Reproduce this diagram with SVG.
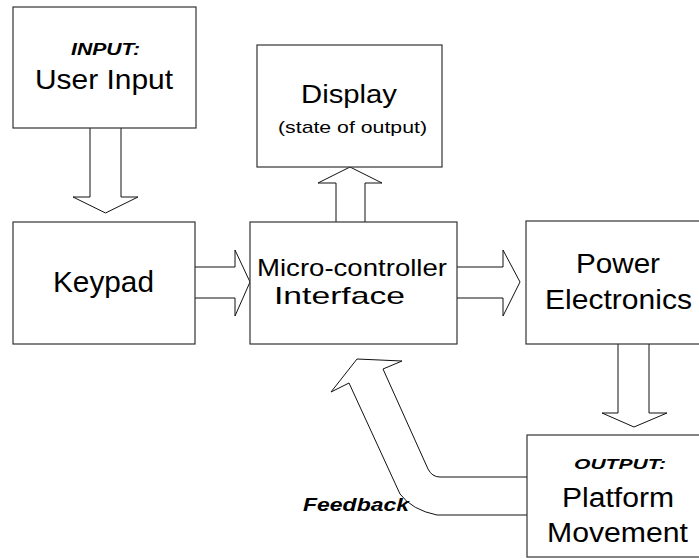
<svg xmlns="http://www.w3.org/2000/svg" width="699" height="558" viewBox="0 0 699 558">
<style>
.box{fill:#fff;stroke:#333;stroke-width:1.2}
.arr{fill:#fff;stroke:#111;stroke-width:1;stroke-linejoin:miter}
text{font-family:"Liberation Sans",Arial,sans-serif;fill:#000}
.bi{font-weight:bold;font-style:italic}
</style>
<rect width="699" height="558" fill="#fff"/>
<g id="connectors">
<path class="arr" d="M90,127 L90,197 L73,197 L105.5,213 L138,197 L121,197 L121,127"/>
<path class="arr" d="M336,223 L336,183 L318,183 L350,167 L382,183 L365,183 L365,223"/>
<path class="arr" d="M194,267 L235,267 L235,250 L250,282 L235,316 L235,298 L194,298"/>
<path class="arr" d="M456,267 L503,267 L503,250 L520,282 L503,316 L503,298 L456,298"/>
<path class="arr" d="M618,343 L618,413 L602,413 L634,427 L667,413 L649,413 L649,343"/>
<path class="arr" d="M528,515 L437,515 Q412,510 400,494 L349,383 L331,392 L357,359 L402,361 L383,369 L428,469 Q432,477 440,477 L528,477"/>
</g>
<g id="user-input">
<rect class="box" x="13" y="7" width="183" height="121"/>
<text class="bi" x="71" y="55" font-size="16" textLength="69" lengthAdjust="spacingAndGlyphs">INPUT:</text>
<text x="35" y="89" font-size="28" textLength="138" lengthAdjust="spacingAndGlyphs">User Input</text>
</g>
<g id="display">
<rect class="box" x="257" y="45" width="185" height="122"/>
<text x="301" y="103" font-size="26" textLength="96" lengthAdjust="spacingAndGlyphs">Display</text>
<text x="278" y="132.5" font-size="17" textLength="149" lengthAdjust="spacingAndGlyphs">(state of output)</text>
</g>
<g id="keypad">
<rect class="box" x="13" y="222" width="182" height="122"/>
<text x="53" y="292" font-size="30" textLength="101" lengthAdjust="spacingAndGlyphs">Keypad</text>
</g>
<g id="micro-controller">
<rect class="box" x="250" y="222" width="207" height="122"/>
<text x="257" y="276" font-size="24" textLength="190" lengthAdjust="spacingAndGlyphs">Micro-controller</text>
<text x="274" y="304" font-size="24" textLength="131" lengthAdjust="spacingAndGlyphs">Interface</text>
</g>
<g id="power-electronics">
<rect class="box" x="526" y="221" width="190" height="123"/>
<text x="576" y="273" font-size="28" textLength="84" lengthAdjust="spacingAndGlyphs">Power</text>
<text x="545" y="309" font-size="28" textLength="147" lengthAdjust="spacingAndGlyphs">Electronics</text>
</g>
<g id="platform-movement">
<rect class="box" x="527" y="435" width="190" height="122"/>
<text class="bi" x="574" y="469" font-size="15" textLength="92" lengthAdjust="spacingAndGlyphs">OUTPUT:</text>
<text x="562" y="507" font-size="27" textLength="112" lengthAdjust="spacingAndGlyphs">Platform</text>
<text x="547" y="542" font-size="27" textLength="141" lengthAdjust="spacingAndGlyphs">Movement</text>
</g>
<g id="feedback-label">
<text class="bi" x="303" y="511" font-size="19" textLength="106" lengthAdjust="spacingAndGlyphs">Feedback</text>
</g>
</svg>
